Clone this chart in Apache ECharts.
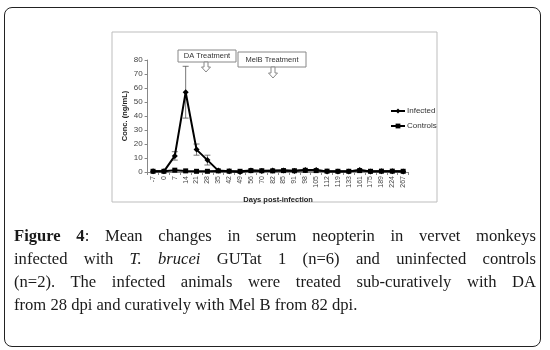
<!DOCTYPE html>
<html>
<head>
<meta charset="utf-8">
<script src="https://cdn.jsdelivr.net/npm/echarts@6/dist/echarts.min.js"></script>
<style>
  html, body { margin: 0; padding: 0; background: #fff; }
  #wrap { position: relative; width: 550px; height: 350px; overflow: hidden; }
  #frame { position: absolute; left: 4px; top: 7px; width: 537px; height: 340px;
           border: 1px solid #222; border-radius: 8px; box-sizing: border-box; }
  #chart { position: absolute; left: 0; top: 0; width: 550px; height: 350px; }
  #caption { position: absolute; left: 14px; top: 224px; width: 522px;
             font-family: "Liberation Serif", "DejaVu Serif", serif; font-size: 16.6px;
             line-height: 23px; color: #1a1a1a; }
  #caption div { text-align: justify; text-align-last: justify; white-space: nowrap; }
  #caption div.last { text-align-last: left; }
</style>
</head>
<body>
<div id="wrap">
  <div id="frame"></div>
  <div id="chart"></div>
  <div id="caption">
    <div><b>Figure 4</b>: Mean changes in serum neopterin in vervet monkeys</div>
    <div>infected with <i>T. brucei</i> GUTat 1 (n=6) and uninfected controls</div>
    <div>(n=2). The infected animals were treated sub-curatively with DA</div>
    <div class="last">from 28 dpi and curatively with Mel B from 82 dpi.</div>
  </div>
</div>
<script>
// days post-infection
var days = ['-7','0','7','14','21','28','35','42','49','56','70','82','85','91','98','105','112','119','133','161','175','189','224','267'];
// neopterin, ng/mL
var infected = [0.5,0.5,11.5,57,16,8.5,1,0.5,0,1,0.8,1,1,0.8,1.5,1.5,0.3,0.3,0.3,1.5,0.3,0.5,0.5,0.3];
var infectedErr = [0,0,3,18.5,4,3.5,0,0,0,0,0,0,0,0,0,0,0,0,0,0,0,0,0,0];
var controls = [0.5,0.5,1.3,0.8,0.5,0.5,0.8,0.6,0.5,1,0.9,0.8,1,0.9,1.2,1,0.6,0.5,0.5,1,0.5,0.6,0.6,0.5];

var errData = [];
for (var i = 0; i < days.length; i++) {
  if (infectedErr[i] > 0) {
    errData.push([i, infected[i] - infectedErr[i], infected[i] + infectedErr[i]]);
  }
}

function drawErr(params, api) {
  var x = api.value(0);
  var lo = api.coord([x, api.value(1)]);
  var hi = api.coord([x, api.value(2)]);
  var w = 3;
  var st = { stroke: '#555', lineWidth: 0.8 };
  return {
    type: 'group',
    children: [
      { type: 'line', shape: { x1: hi[0], y1: hi[1], x2: lo[0], y2: lo[1] }, style: st },
      { type: 'line', shape: { x1: hi[0] - w, y1: hi[1], x2: hi[0] + w, y2: hi[1] }, style: st },
      { type: 'line', shape: { x1: lo[0] - w, y1: lo[1], x2: lo[0] + w, y2: lo[1] }, style: st }
    ]
  };
}

var font = 'Liberation Sans';
var myChart = echarts.init(document.getElementById('chart'), null, { renderer: 'canvas' });
var option = {
  animation: false,
  textStyle: { fontFamily: font },
  grid: { left: 147.6, right: 141.4, top: 60, bottom: 178 },
  legend: {
    orient: 'vertical',
    left: 385,
    top: 102,
    itemWidth: 14,
    itemHeight: 6,
    itemGap: 7,
    textStyle: { fontSize: 8, color: '#333', fontFamily: font, padding: [0, 0, 0, -3] },
    data: ['Infected', 'Controls']
  },
  xAxis: {
    type: 'category',
    data: days,
    boundaryGap: true,
    name: 'Days post-infection',
    nameLocation: 'middle',
    nameGap: 24,
    nameTextStyle: { fontSize: 7.5, fontWeight: 'bold', color: '#222', fontFamily: font },
    axisLine: { lineStyle: { color: '#888', width: 1 } },
    axisTick: { show: true, length: 3, lineStyle: { color: '#888' } },
    axisLabel: { rotate: 90, fontSize: 7, color: '#444', margin: 4, interval: 0 }
  },
  yAxis: {
    type: 'value',
    min: 0,
    max: 80,
    interval: 10,
    name: 'Conc. (ng/mL)',
    nameLocation: 'middle',
    nameGap: 19,
    nameTextStyle: { fontSize: 7.5, fontWeight: 'bold', color: '#222', fontFamily: font },
    axisLine: { show: true, lineStyle: { color: '#888', width: 1 } },
    axisTick: { show: true, length: 3, lineStyle: { color: '#888' } },
    axisLabel: { fontSize: 8, color: '#444', margin: 5 },
    splitLine: { show: false }
  },
  series: [
    {
      name: 'Infected',
      type: 'line',
      data: infected,
      symbol: 'diamond',
      symbolSize: 6,
      lineStyle: { color: '#000', width: 2 },
      itemStyle: { color: '#000' },
      z: 3
    },
    {
      name: 'Controls',
      type: 'line',
      data: controls,
      symbol: 'rect',
      symbolSize: 5,
      lineStyle: { color: '#000', width: 2 },
      itemStyle: { color: '#000' },
      z: 2
    },
    {
      name: 'err',
      type: 'custom',
      renderItem: drawErr,
      data: errData,
      z: 1
    }
  ],
  graphic: [
    { type: 'rect', shape: { x: 112, y: 32, width: 325, height: 170 },
      style: { fill: 'none', stroke: '#bdbdbd', lineWidth: 1 }, silent: true },
    { type: 'rect', shape: { x: 178, y: 50, width: 58, height: 12 },
      style: { fill: '#fff', stroke: '#888', lineWidth: 1 } },
    { type: 'text', x: 207, y: 56,
      style: { text: 'DA Treatment', fontSize: 7.5, fill: '#333', align: 'center', verticalAlign: 'middle', fontFamily: font } },
    { type: 'polygon', shape: { points: [[204,62],[208,62],[208,67],[210.5,67],[206,72],[201.5,67],[204,67]] },
      style: { fill: '#fff', stroke: '#888', lineWidth: 1 } },
    { type: 'rect', shape: { x: 238, y: 52, width: 68, height: 15 },
      style: { fill: '#fff', stroke: '#888', lineWidth: 1 } },
    { type: 'text', x: 272, y: 59.5,
      style: { text: 'MelB Treatment', fontSize: 7.5, fill: '#333', align: 'center', verticalAlign: 'middle', fontFamily: font } },
    { type: 'polygon', shape: { points: [[271,67],[275,67],[275,73],[277.5,73],[273,78],[268.5,73],[271,73]] },
      style: { fill: '#fff', stroke: '#888', lineWidth: 1 } }
  ]
};
myChart.setOption(option);
</script>
</body>
</html>
